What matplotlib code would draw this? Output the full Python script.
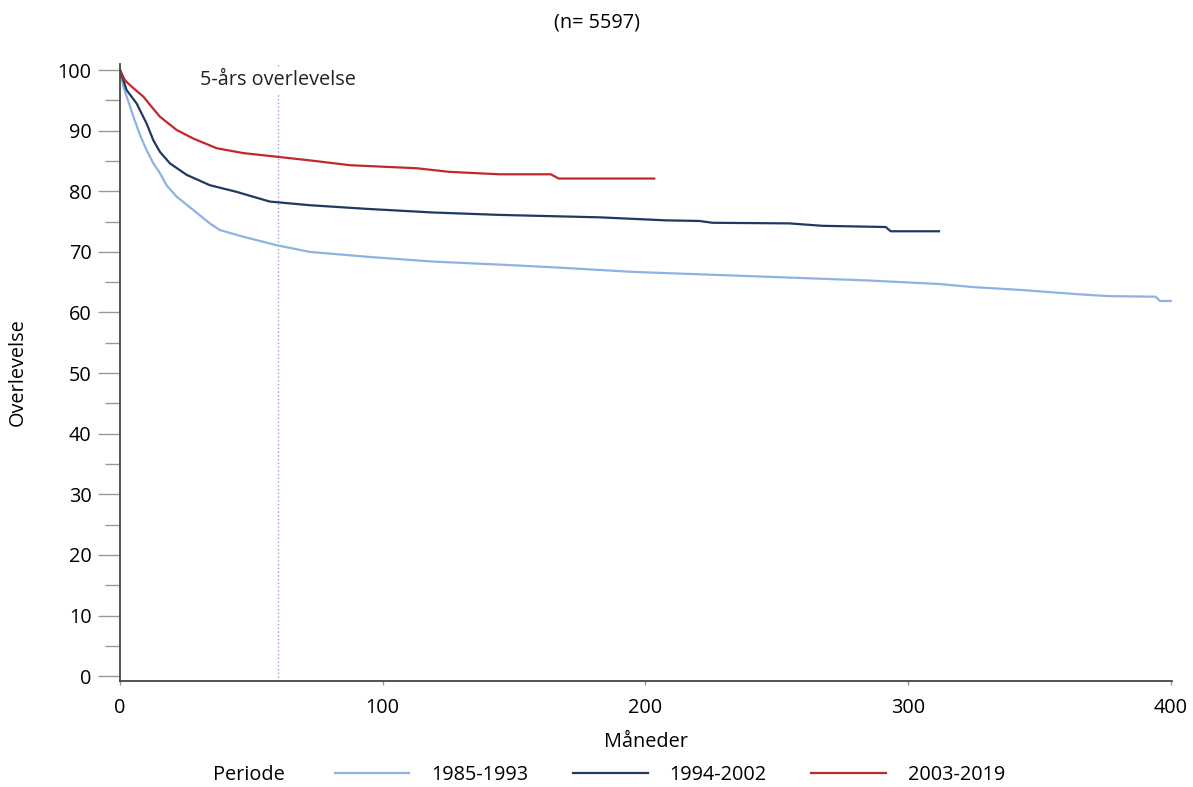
import numpy as np
import matplotlib
matplotlib.use("Agg")
import matplotlib.pyplot as plt
from matplotlib.ticker import MultipleLocator

plt.rcParams['font.family'] = ['Open Sans', 'DejaVu Sans']

# Kaplan-Meier style survival curves
periods = ["1985-1993", "1994-2002", "2003-2019"]
colors = ["#8db3e2", "#1f3a60", "#c0282c"]

months_1985 = [0, 1.3, 3.2, 5.1, 7.6, 10.1, 12.7, 15.2, 17.7, 21.6, 27.9, 34.2, 38,
               46.9, 59.6, 72.2, 93.8, 119, 144.5, 167.3, 195.2, 220.5, 245.9,
               283.9, 311.8, 324.5, 343.5, 365, 376.4, 394.2, 396, 400]
surv_1985 = [100, 97.2, 94.8, 92.3, 89.3, 86.8, 84.6, 83.0, 81.0, 79.1, 76.9, 74.7, 73.6,
             72.5, 71.1, 70.0, 69.2, 68.4, 67.9, 67.4, 66.7, 66.3, 65.9,
             65.3, 64.7, 64.2, 63.7, 63.0, 62.7, 62.6, 61.9, 61.9]

months_1994 = [0, 2.5, 6.3, 10.1, 12.7, 15.2, 19, 25.4, 34.2, 44.4, 57, 72.2, 93.8,
               119, 144.5, 182.5, 207.9, 220.5, 225.6, 254.8, 267.4, 291.5, 293.4, 311.8]
surv_1994 = [100, 96.7, 94.5, 91.2, 88.4, 86.5, 84.6, 82.7, 81.0, 79.9, 78.3, 77.7, 77.1,
             76.5, 76.1, 75.7, 75.2, 75.1, 74.8, 74.7, 74.3, 74.1, 73.4, 73.4]

months_2003 = [0, 1.9, 3.8, 8.9, 12.1, 15.2, 21.6, 27.9, 36.8, 46.9, 59.6, 72.2, 87.5,
               112.8, 125.5, 144.5, 164, 167, 203.4]
surv_2003 = [100, 98.3, 97.5, 95.6, 93.9, 92.3, 90.1, 88.7, 87.1, 86.3, 85.7, 85.1, 84.3,
             83.8, 83.2, 82.8, 82.8, 82.1, 82.1]

five_year = 60
fs = 14.3

fig = plt.figure(figsize=(11.93, 7.87), dpi=100)
ax = fig.add_axes([0.1006, 0.1347, 0.8818, 0.784])

ax.plot(months_1985, surv_1985, color=colors[0], lw=1.6, label=periods[0])
ax.plot(months_1994, surv_1994, color=colors[1], lw=1.6, label=periods[1])
ax.plot(months_2003, surv_2003, color=colors[2], lw=1.6, label=periods[2])

ax.axvline(five_year, color="#8a8ad8", lw=0.9, ls=(0, (1, 2)), zorder=0)
ax.text(five_year, 98.3, "5-års overlevelse", ha="center", va="center",
        fontsize=fs, color="#222222",
        bbox=dict(facecolor="white", edgecolor="none", pad=2))

ax.set_xlim(0, 400.5)
ax.set_ylim(-0.8, 101)
ax.set_xticks([0, 100, 200, 300, 400])
ax.yaxis.set_major_locator(MultipleLocator(10))
ax.yaxis.set_minor_locator(MultipleLocator(5))

for s in ["top", "right"]:
    ax.spines[s].set_visible(False)
for s in ["left", "bottom"]:
    ax.spines[s].set_color("#444444")
    ax.spines[s].set_linewidth(1.3)

ax.tick_params(axis="y", which="major", length=15.5, width=1, color="#999999",
               labelsize=fs, pad=5)
ax.tick_params(axis="y", which="minor", length=11, width=1, color="#999999")
ax.tick_params(axis="x", which="major", length=3, width=1, color="#999999",
               labelsize=fs, pad=9)

ax.set_xlabel("Måneder", fontsize=fs)
ax.xaxis.set_label_coords(0.5, -0.083)
ax.set_ylabel("Overlevelse", fontsize=fs)
ax.yaxis.set_label_coords(-0.088, 0.5)

fig.text(0.5, 0.972, "(n= 5597)", ha="center", va="center", fontsize=fs)
fig.text(0.1785, 0.0152, "Periode", ha="left", va="center", fontsize=fs)

fig.legend(loc="center left", bbox_to_anchor=(0.2808, 0.0152), ncol=3, frameon=False,
           fontsize=fs, handlelength=3.75, handletextpad=1.1, columnspacing=2.25,
           borderpad=0, borderaxespad=0)

fig.savefig("out.png", dpi=100)
